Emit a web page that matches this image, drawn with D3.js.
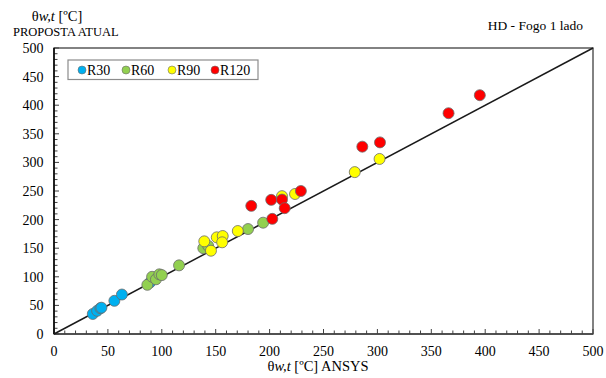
<!DOCTYPE html>
<html><head><meta charset="utf-8">
<script src="https://cdn.jsdelivr.net/npm/d3@7"></script>
<style>body{margin:0;background:#fff}svg{display:block}</style>
</head><body><svg id="c" width="606" height="378"></svg>
<script>
const seriesNames = ["R30", "R60", "R90", "R120"];
const seriesColors = ["#00B0F0", "#92D050", "#FFFF00", "#FF0000"];
const r30 = [[36,35],[40,40.5],[43,45],[44,46],[56,58],[63,69],[89,90]];
const r60 = [[86.6,86],[91,100],[94.6,95.6],[97.7,104.3],[100,103],[116,120],[138.5,150],[143,154],[180,183.5],[194,194.6]];
const r90 = [[139.4,162],[145.6,145.6],[151,169],[156.5,171.3],[156,160.3],[170.5,180],[211.5,241],[223.6,244.8],[279,283],[302,306]];
const r120 = [[183,224],[201.5,234.5],[202.5,201.3],[211.5,235],[214,220],[229,250],[286,327.5],[302.4,335],[366,386],[395,417.5]];
const xTicks = [0,50,100,150,200,250,300,350,400,450,500];
const yTicks = [0,50,100,150,200,250,300,350,400,450,500];
const minorTicks = d3.range(0, 501, 10);

const FONT = '"Liberation Serif","Times New Roman",serif';
const svg = d3.select("#c");
const L = 54, R = 593, T = 48, B = 334;
const x = d3.scaleLinear().domain([0,500]).range([L,R]);
const y = d3.scaleLinear().domain([0,500]).range([B,T]);

function txt(sel, size){
  return sel.style("font-family", FONT).style("font-size", size + "px").attr("fill","#000");
}

// frame
svg.append("rect").attr("x",L).attr("y",T).attr("width",R-L).attr("height",B-T)
  .attr("fill","none").attr("stroke","#404040").attr("stroke-width",1.3);

// ticks (inside)
const tg = svg.append("g").attr("stroke","#404040").attr("stroke-width",1);
minorTicks.forEach(v=>{
  const major = v % 50 === 0;
  const len = major ? 5 : 3.5;
  tg.append("line").attr("x1",x(v)).attr("x2",x(v)).attr("y1",B).attr("y2",B-len);
  tg.append("line").attr("x1",L).attr("x2",L+len).attr("y1",y(v)).attr("y2",y(v));
});

// axes lines
svg.append("line").attr("x1",L).attr("x2",L).attr("y1",T).attr("y2",B).attr("stroke","#000").attr("stroke-width",1.5);
svg.append("line").attr("x1",L).attr("x2",R).attr("y1",B).attr("y2",B).attr("stroke","#404040").attr("stroke-width",1.5);

// tick labels
txt(svg.append("g").selectAll("text").data(xTicks).join("text")
  .attr("x",d=>x(d)).attr("y",356).attr("text-anchor","middle"), 14).text(d=>d);
txt(svg.append("g").selectAll("text").data(yTicks).join("text")
  .attr("x",43.5).attr("y",d=>y(d)+5).attr("text-anchor","end"), 14).text(d=>d);

// diagonal
svg.append("line").attr("x1",x(0)).attr("y1",y(0)).attr("x2",x(500)).attr("y2",y(500))
  .attr("stroke","#1a1a1a").attr("stroke-width",1.5);

// points
[r30,r60,r90,r120].forEach((s,i)=>{
  svg.append("g").selectAll("circle").data(s).join("circle")
    .attr("cx",d=>x(d[0])).attr("cy",d=>y(d[1])).attr("r",5.5)
    .attr("fill",seriesColors[i]).attr("stroke","#6b6b6b").attr("stroke-width",0.8);
});

// legend
svg.append("rect").attr("x",68).attr("y",60).attr("width",190).attr("height",19.5)
  .attr("fill","#fff").attr("stroke","#8c8c8c").attr("stroke-width",1.2);
const lx = [82,126,172,215];
seriesNames.forEach((n,i)=>{
  svg.append("circle").attr("cx",lx[i]).attr("cy",70).attr("r",4)
    .attr("fill",seriesColors[i]).attr("stroke","#6b6b6b").attr("stroke-width",0.6);
  txt(svg.append("text").attr("x",lx[i]+5).attr("y",75), 14).text(n);
});

// titles
function theta(xx, yy, suffix, size){
  const tx = txt(svg.append("text").attr("x",xx).attr("y",yy).attr("text-anchor","middle"), size);
  tx.append("tspan").text("θ");
  tx.append("tspan").style("font-style","italic").text("w,t");
  tx.append("tspan").text(" [ºC]"+suffix);
  return tx;
}
theta(57, 21, "", 14.5);
txt(svg.append("text").attr("x",13).attr("y",36), 12.5).text("PROPOSTA ATUAL");
theta(318, 371, " ANSYS", 14.5);
txt(svg.append("text").attr("x",583).attr("y",30).attr("text-anchor","end"), 13.5).text("HD - Fogo 1 lado");
</script></body></html>
